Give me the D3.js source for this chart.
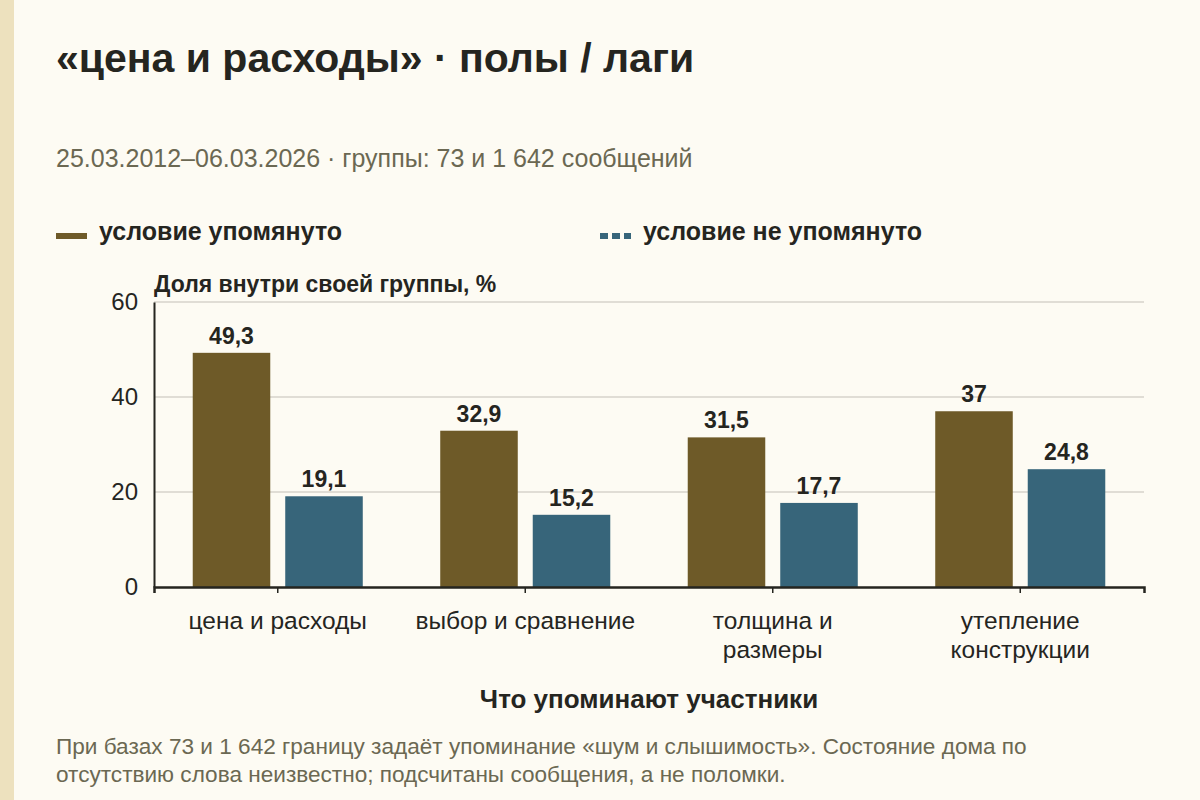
<!DOCTYPE html>
<html>
<head>
<meta charset="utf-8">
<script src="https://cdn.jsdelivr.net/npm/d3@7"></script>
<style>
  body { margin: 0; background: #fdfbf3; }
  svg { display: block; font-family: "Liberation Sans", Arial, sans-serif; }
</style>
</head>
<body>
<div id="chart"></div>
<script>
// data
const categories = [["цена и расходы"], ["выбор и сравнение"], ["толщина и", "размеры"], ["утепление", "конструкции"]];
const seriesNames = ["условие упомянуто", "условие не упомянуто"];
const mentioned = [49.3, 32.9, 31.5, 37];
const notMentioned = [19.1, 15.2, 17.7, 24.8];
const yTicks = [0, 20, 40, 60];

const colors = ["#6e5a28", "#37657a"];
const width = 1200, height = 800;
const margin = { top: 302, right: 56, bottom: 213, left: 154 };

const svg = d3.select("#chart").append("svg")
  .attr("width", width)
  .attr("height", height);

svg.append("rect").attr("width", width).attr("height", height).attr("fill", "#fdfbf3");
svg.append("rect").attr("width", 14).attr("height", height).attr("fill", "#ede1be");

// titles
svg.append("text").attr("x", 56).attr("y", 72)
  .attr("font-size", 41).attr("font-weight", "bold").attr("fill", "#25251f")
  .text("«цена и расходы» · полы / лаги");
svg.append("text").attr("x", 56).attr("y", 167)
  .attr("font-size", 25).attr("fill", "#6b6852")
  .text("25.03.2012–06.03.2026 · группы: 73 и 1 642 сообщений");

// legend
const legendX = [56, 600];
seriesNames.forEach((name, i) => {
  svg.append("line")
    .attr("x1", legendX[i]).attr("x2", legendX[i] + 31)
    .attr("y1", 236).attr("y2", 236)
    .attr("stroke", colors[i]).attr("stroke-width", 6)
    .attr("stroke-dasharray", i === 1 ? "8,4" : null);
  svg.append("text").attr("x", legendX[i] + 43).attr("y", 240)
    .attr("font-size", 25).attr("font-weight", "bold").attr("fill", "#25251f")
    .text(name);
});

const y = d3.scaleLinear()
  .domain([0, 60])
  .range([height - margin.bottom, margin.top]);

const x0 = d3.scaleBand()
  .domain(d3.range(categories.length))
  .range([margin.left, width - margin.right])
  .paddingInner(0.313)
  .paddingOuter(0.1565);

const x1 = d3.scaleBand()
  .domain([0, 1])
  .range([0, x0.bandwidth()])
  .paddingInner(0.162);

// grid
svg.append("g")
  .selectAll("line")
  .data(yTicks.filter(d => d > 0))
  .join("line")
  .attr("x1", margin.left).attr("x2", width - margin.right)
  .attr("y1", d => y(d)).attr("y2", d => y(d))
  .attr("stroke", "#d6d3cb").attr("stroke-width", 1.5);

// bars
const rows = categories.map((c, i) => [mentioned[i], notMentioned[i]]);
const groups = svg.append("g")
  .selectAll("g")
  .data(rows)
  .join("g")
  .attr("transform", (d, i) => `translate(${x0(i)},0)`);

groups.selectAll("rect")
  .data(d => d)
  .join("rect")
  .attr("x", (d, j) => x1(j))
  .attr("y", d => y(d))
  .attr("width", x1.bandwidth())
  .attr("height", d => y(0) - y(d))
  .attr("fill", (d, j) => colors[j]);

groups.selectAll("text")
  .data(d => d)
  .join("text")
  .attr("x", (d, j) => x1(j) + x1.bandwidth() / 2)
  .attr("y", d => y(d) - 9)
  .attr("text-anchor", "middle")
  .attr("font-size", 23).attr("font-weight", "bold").attr("fill", "#25251f")
  .text(d => String(d).replace(".", ","));

// axes
const yAxis = svg.append("g")
  .attr("transform", `translate(${margin.left},0)`)
  .call(d3.axisLeft(y).tickValues(yTicks).tickSize(0).tickPadding(16));
yAxis.select(".domain").attr("stroke", "#25251f").attr("stroke-width", 2);
yAxis.selectAll("text").attr("font-size", 24).attr("fill", "#25251f")
  .attr("font-family", "Liberation Sans, Arial, sans-serif");

const xAxis = svg.append("g")
  .attr("transform", `translate(0,${height - margin.bottom})`)
  .call(d3.axisBottom(x0).tickSize(6).tickFormat(""));
xAxis.select(".domain").attr("stroke", "#25251f").attr("stroke-width", 2.5);
xAxis.selectAll(".tick line").attr("stroke", "#25251f").attr("stroke-width", 1.5);
xAxis.selectAll(".tick").each(function (d) {
  const t = d3.select(this).append("text")
    .attr("text-anchor", "middle")
    .attr("font-size", 24.5).attr("fill", "#25251f")
    .attr("font-family", "Liberation Sans, Arial, sans-serif");
  categories[d].forEach((line, k) => {
    t.append("tspan").attr("x", 0).attr("y", 42 + k * 29).text(line);
  });
});

svg.append("text").attr("x", margin.left).attr("y", 292)
  .attr("font-size", 23).attr("font-weight", "bold").attr("fill", "#25251f")
  .text("Доля внутри своей группы, %");

svg.append("text").attr("x", (margin.left + width - margin.right) / 2).attr("y", 708)
  .attr("text-anchor", "middle")
  .attr("font-size", 26).attr("font-weight", "bold").attr("fill", "#25251f")
  .text("Что упоминают участники");

// footnote
const note = ["При базах 73 и 1 642 границу задаёт упоминание «шум и слышимость». Состояние дома по",
  "отсутствию слова неизвестно; подсчитаны сообщения, а не поломки."];
svg.append("g").selectAll("text")
  .data(note)
  .join("text")
  .attr("x", 56).attr("y", (d, i) => 754 + i * 28)
  .attr("font-size", 22.6).attr("fill", "#6b6852")
  .text(d => d);
</script>
</body>
</html>
